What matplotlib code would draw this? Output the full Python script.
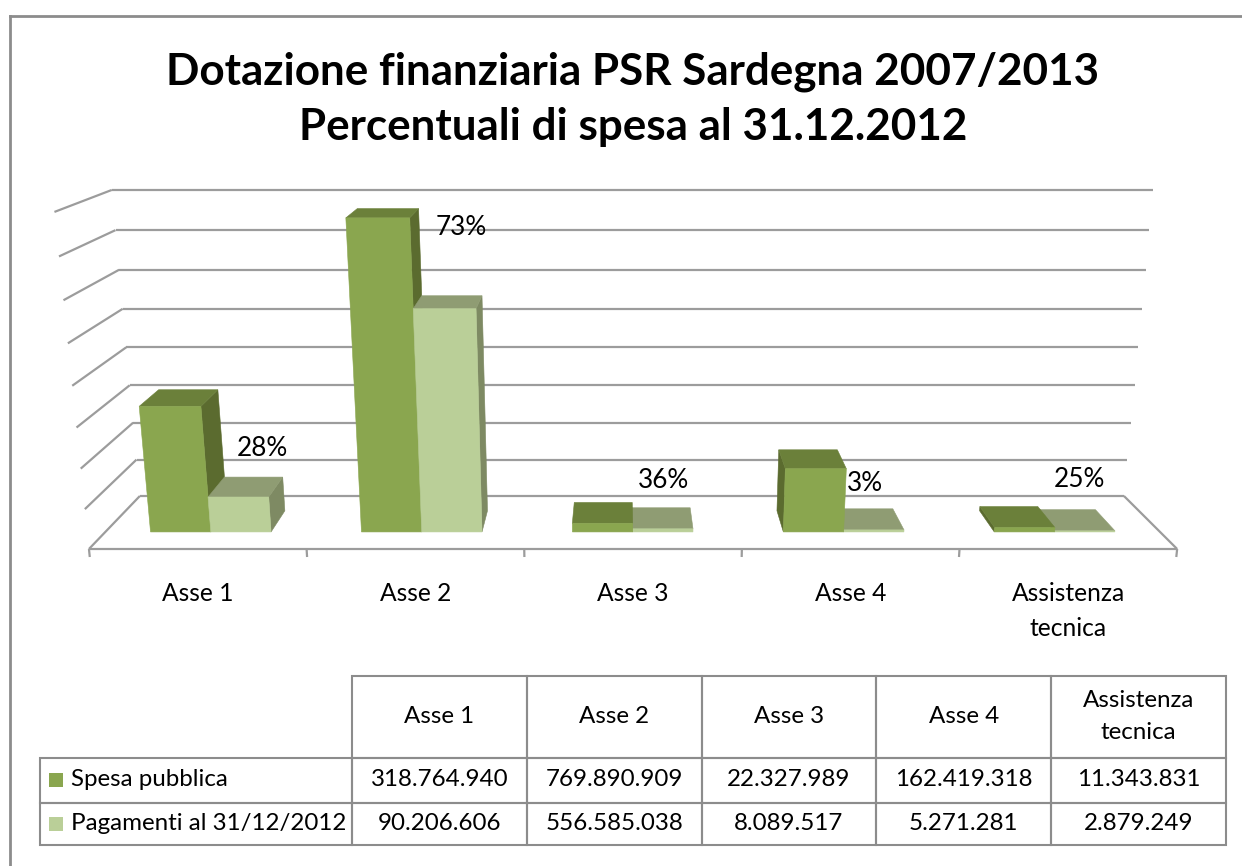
import numpy as np
import matplotlib
matplotlib.use("Agg")
import matplotlib.pyplot as plt
from matplotlib.patches import Polygon, Rectangle
from matplotlib.lines import Line2D
from matplotlib.table import Table

# ---------------- data ----------------
title_lines = ["Dotazione finanziaria PSR Sardegna 2007/2013",
               "Percentuali di spesa al 31.12.2012"]
categories = ["Asse 1", "Asse 2", "Asse 3", "Asse 4", "Assistenza\ntecnica"]
series_names = ["Spesa pubblica", "Pagamenti al 31/12/2012"]
spesa_pubblica = [318764940, 769890909, 22327989, 162419318, 11343831]
pagamenti = [90206606, 556585038, 8089517, 5271281, 2879249]
pct_labels = ["28%", "73%", "36%", "3%", "25%"]
grid_values = [0, 100e6, 200e6, 300e6, 400e6, 500e6, 600e6, 700e6, 800e6]

# ---------------- style ----------------
FONT = "Lato"
plt.rcParams["font.family"] = [FONT, "DejaVu Sans"]
face_colors = [  # front, top, side
    ("#8AA64F", "#6B803A", "#5B6B2F"),
    ("#BACF98", "#8F9C73", "#7E8A63"),
]
GRID_C = "#9C9C9C"
BORDER_C = "#8C8C8C"

W, H = 1242, 866
fig = plt.figure(figsize=(W / 100, H / 100), dpi=100)
fig.patch.set_facecolor("white")

# ---------------- perspective camera (Excel-like 3D column) ----------------
CX, CY, FOC = 621.0, 370.0, 1420.0
THETA = np.radians(14.8)
CAM_H = 1000.0
X0, CAT_W = -993.0, 406.2
Z_FRONT = 2477.0
GAP = 1.5
V_MAX, Y_SPAN = 800e6, 632.1
BW = CAT_W / (2 + GAP)
Z_BACK = Z_FRONT + BW * (1 + GAP)
X1 = X0 + CAT_W * len(categories)


def proj(X, val, Z, extra_y=0.0):
    Y = -CAM_H + val / V_MAX * Y_SPAN + extra_y
    s, c = np.sin(THETA), np.cos(THETA)
    yc = c * Y + s * Z
    zc = -s * Y + c * Z
    return X / zc, yc / zc


ax = fig.add_axes([0, 0, 1, 1])
ax.set_xlim(-CX / FOC, (W - CX) / FOC)
ax.set_ylim((CY - H) / FOC, CY / FOC)
ax.axis("off")


def line3d(p, q, **kw):
    a = proj(*p)
    b = proj(*q)
    ax.plot([a[0], b[0]], [a[1], b[1]], color=GRID_C, lw=1.6,
            solid_capstyle="butt", zorder=1, **kw)


# back wall + left wall gridlines
for g in grid_values:
    line3d((X0, g, Z_BACK), (X1, g, Z_BACK))
    line3d((X0, g, Z_FRONT), (X0, g, Z_BACK))
# floor edges
line3d((X0, 0, Z_FRONT), (X1, 0, Z_FRONT))
line3d((X1, 0, Z_FRONT), (X1, 0, Z_BACK))
# ticks at category boundaries
for i in range(len(categories) + 1):
    Xb = X0 + i * CAT_W
    line3d((Xb, 0, Z_FRONT), (Xb, 0, Z_FRONT, -16))

# bars
bars = []
for i in range(len(categories)):
    for j, vals in enumerate([spesa_pubblica, pagamenti]):
        xl = X0 + i * CAT_W + BW * GAP / 2 + j * BW
        bars.append((i, j, xl, xl + BW, vals[i]))
bars.sort(key=lambda b: -abs((b[2] + b[3]) / 2))
zf = Z_FRONT + BW * GAP / 2
zb = zf + BW
for i, j, xl, xr, v in bars:
    fc, tc, sc = face_colors[j]
    faces = []
    if xr < 0:
        faces.append(([(xr, 0, zf), (xr, 0, zb), (xr, v, zb), (xr, v, zf)], sc))
    elif xl > 0:
        faces.append(([(xl, 0, zf), (xl, 0, zb), (xl, v, zb), (xl, v, zf)], sc))
    faces.append(([(xl, v, zf), (xr, v, zf), (xr, v, zb), (xl, v, zb)], tc))
    faces.append(([(xl, 0, zf), (xr, 0, zf), (xr, v, zf), (xl, v, zf)], fc))
    for pts, col in faces:
        poly = Polygon([proj(*p) for p in pts], closed=True, facecolor=col,
                       edgecolor=col, lw=0.4, zorder=2)
        ax.add_patch(poly)

# percentage labels (placed above the "Pagamenti" bar)
label_offsets_px = [(16, -38), (13, -75), (2, -38), (-4, -36), (4, -41)]
for i, txt in enumerate(pct_labels):
    xc = X0 + i * CAT_W + BW * GAP / 2 + 1.5 * BW
    xy = proj(xc, pagamenti[i], (zf + zb) / 2)
    dx, dy = label_offsets_px[i]
    ax.annotate(txt, xy=xy, xytext=(dx * 0.72, -dy * 0.72), textcoords="offset points",
                ha="center", va="center", fontsize=18.8, color="black", zorder=5)

# category labels
for i, cat in enumerate(categories):
    xy = proj(X0 + (i + 0.5) * CAT_W, 0, Z_FRONT)
    ax.annotate(cat, xy=xy, xytext=(0, -33 * 0.72), textcoords="offset points",
                ha="center", va="top", fontsize=17.7, linespacing=1.62, zorder=5)

# ---------------- title ----------------
fig.text(633 / W, 1 - 72 / H, title_lines[0], ha="center", va="center",
         fontsize=31.7, fontweight="bold")
fig.text(633 / W, 1 - 127 / H, title_lines[1], ha="center", va="center",
         fontsize=31.7, fontweight="bold")

# ---------------- outer border ----------------
fig.add_artist(Line2D([10 / W, 10 / W], [0, 1 - 16 / H], transform=fig.transFigure,
                      color=BORDER_C, lw=2))
fig.add_artist(Line2D([10 / W, 1], [1 - 16 / H, 1 - 16 / H], transform=fig.transFigure,
                      color=BORDER_C, lw=2))

# ---------------- data table ----------------
t_left, t_right, t_top, t_bot = 40, 1226, 676, 845
ax_t = fig.add_axes([t_left / W, 1 - t_bot / H, (t_right - t_left) / W, (t_bot - t_top) / H])
ax_t.axis("off")
ax_t.set_xlim(0, 1)
ax_t.set_ylim(0, 1)
col_w = [312] + [174.8] * len(categories)
row_h = [81.5, 45, 42.5]
tw, th = sum(col_w), sum(row_h)
tbl = Table(ax_t, bbox=[0, 0, 1, 1])
rows_vals = [spesa_pubblica, pagamenti]
for r in range(3):
    for c in range(len(col_w)):
        if r == 0 and c == 0:
            txt, loc = "", "center"
        elif r == 0:
            txt, loc = categories[c - 1], "center"
        elif c == 0:
            txt, loc = series_names[r - 1], "left"
        else:
            txt, loc = f"{rows_vals[r - 1][c - 1]:,}".replace(",", "."), "center"
        cell = tbl.add_cell(r, c, width=col_w[c] / tw, height=row_h[r] / th,
                            text=txt, loc=loc, edgecolor=BORDER_C, facecolor="none")
        cell.set_linewidth(1.5)
        cell.get_text().set_fontsize(17.4)
        cell.get_text().set_linespacing(1.65)
        if r == 0 and c == 0:
            cell.visible_edges = ""
tbl.auto_set_font_size(False)
ax_t.add_table(tbl)

# legend keys inside the row header cells
y_acc = th - row_h[0]
for r in range(2):
    yc = (y_acc - row_h[r + 1] / 2) / th
    ax_t.add_patch(Rectangle((9 / tw, yc - 7 / th), 14 / tw, 14 / th,
                             facecolor=face_colors[r][0], edgecolor="none", zorder=5))
    y_acc -= row_h[r + 1]

fig.savefig("out.png", dpi=100, facecolor="white")
